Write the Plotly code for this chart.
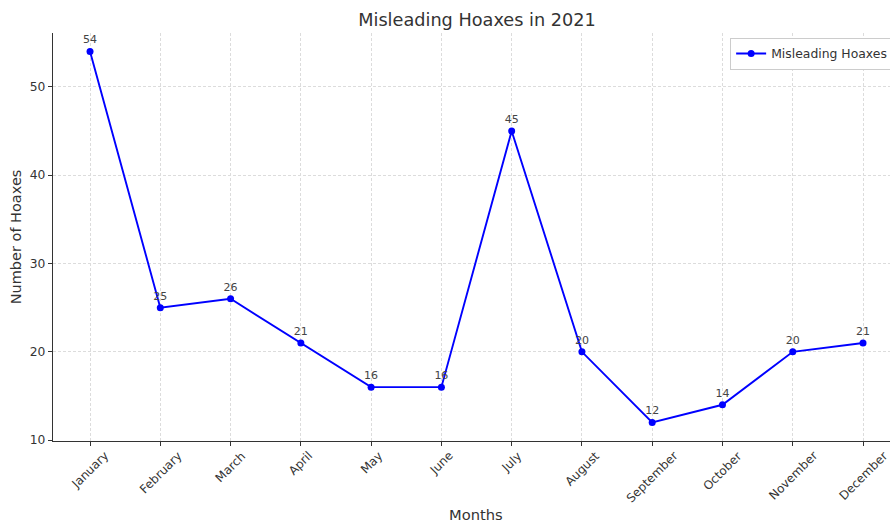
import plotly.graph_objects as go

# Monthly counts of misleading hoaxes, 2021
months = ["January", "February", "March", "April", "May", "June",
          "July", "August", "September", "October", "November", "December"]
hoaxes = [54, 25, 26, 21, 16, 16, 45, 20, 12, 14, 20, 21]
y_ticks = [10, 20, 30, 40, 50]

FONT = "DejaVu Sans"
TXT = "#333333"
GRID = "#dcdcdc"

x_idx = list(range(len(months)))

fig = go.Figure()
fig.add_trace(go.Scatter(
    x=x_idx, y=hoaxes,
    mode="lines+markers+text",
    name="Misleading Hoaxes",
    line=dict(color="#0000ff", width=1.9),
    marker=dict(color="#0000ff", size=7),
    text=[str(v) for v in hoaxes],
    textposition="top center",
    textfont=dict(family=FONT, size=11, color="#444444"),
    cliponaxis=False,
))

# Rotated month labels centred under each tick
annotations = []
for i, m in zip(x_idx, months):
    annotations.append(dict(
        x=i, y=0, xref="x", yref="paper",
        text=m, showarrow=False, textangle=-45,
        xanchor="center", yanchor="top", yshift=-5,
        font=dict(family=FONT, size=12, color=TXT),
    ))

# x-axis title, centred on the full axes width
annotations.append(dict(
    x=0.5054, y=0, xref="paper", yref="paper",
    text="Months", showarrow=False,
    xanchor="center", yanchor="middle", yshift=-73,
    font=dict(family=FONT, size=14.7, color=TXT),
))

fig.update_layout(
    width=890, height=524,
    margin=dict(l=53, r=0, t=33, b=83, autoexpand=False),
    paper_bgcolor="white", plot_bgcolor="white",
    font=dict(family=FONT, color=TXT),
    title=dict(text="Misleading Hoaxes in 2021", x=0.536, xanchor="center",
               y=0.963, yanchor="middle",
               font=dict(family=FONT, size=17.7, color=TXT)),
    showlegend=True,
    legend=dict(x=0.809, y=0.988, xanchor="left", yanchor="top",
                bgcolor="white", bordercolor="#cccccc", borderwidth=1,
                font=dict(family=FONT, size=12.4, color=TXT)),
    annotations=annotations,
)

fig.update_xaxes(
    range=[-0.527, 11.384],
    tickmode="array", tickvals=x_idx, showticklabels=False,
    ticks="outside", ticklen=4, tickcolor="#333333",
    showline=True, linecolor="#333333", linewidth=1.3,
    showgrid=True, gridcolor=GRID, griddash="3px,2px", gridwidth=0.8,
    zeroline=False,
)
fig.update_yaxes(
    range=[9.9, 56.1],
    tickmode="array", tickvals=y_ticks,
    ticks="outside", ticklen=4, tickcolor="#333333",
    tickfont=dict(family=FONT, size=12.3, color=TXT),
    showline=True, linecolor="#333333", linewidth=1.3,
    showgrid=True, gridcolor=GRID, griddash="3px,2px", gridwidth=0.8,
    zeroline=False,
    title=dict(text="Number of Hoaxes", standoff=4,
               font=dict(family=FONT, size=14.5, color=TXT)),
)

fig.write_html("out.html")
